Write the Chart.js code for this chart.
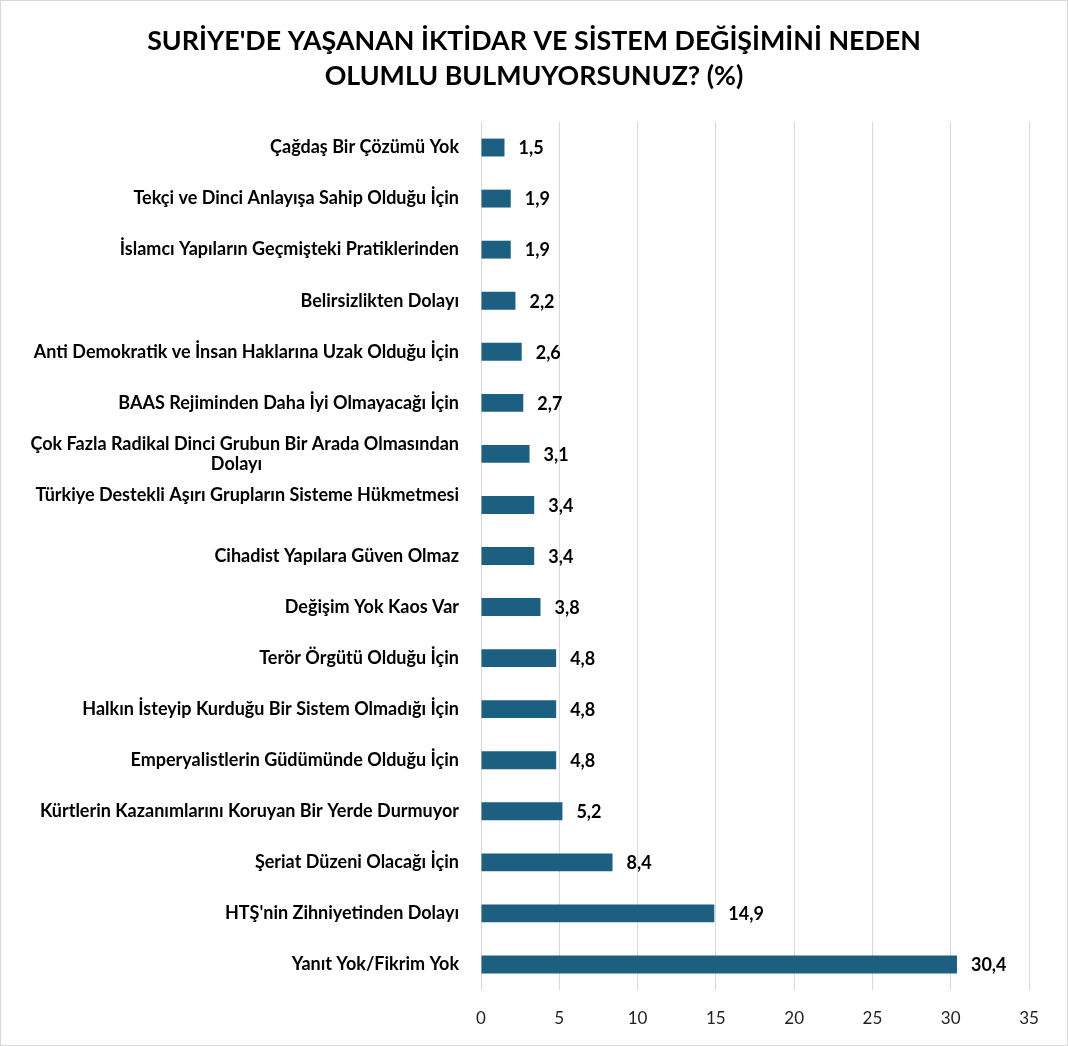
<!DOCTYPE html>
<html><head><meta charset="utf-8">
<script src="https://cdn.jsdelivr.net/npm/chart.js@4.4.1/dist/chart.umd.min.js"></script>
<style>
html,body{margin:0;padding:0;background:#fff;}
#wrap{width:1066px;height:1044px;border:1px solid #d9d9d9;position:relative;background:#fff;}
canvas{display:block;}
</style></head><body>
<div id="wrap"><canvas id="c" width="1066" height="1044"></canvas></div>
<script>
const titleLines = ["SURİYE'DE YAŞANAN İKTİDAR VE SİSTEM DEĞİŞİMİNİ NEDEN", "OLUMLU BULMUYORSUNUZ? (%)"];
const categories = [
  "Çağdaş Bir Çözümü Yok",
  "Tekçi ve Dinci Anlayışa Sahip Olduğu İçin",
  "İslamcı Yapıların Geçmişteki Pratiklerinden",
  "Belirsizlikten Dolayı",
  "Anti Demokratik ve İnsan Haklarına Uzak Olduğu İçin",
  "BAAS Rejiminden Daha İyi Olmayacağı İçin",
  ["Çok Fazla Radikal Dinci Grubun Bir Arada Olmasından", "Dolayı"],
  ["Türkiye Destekli Aşırı Grupların Sisteme Hükmetmesi", ""],
  "Cihadist Yapılara Güven Olmaz",
  "Değişim Yok Kaos Var",
  "Terör Örgütü Olduğu İçin",
  "Halkın İsteyip Kurduğu Bir Sistem Olmadığı İçin",
  "Emperyalistlerin Güdümünde Olduğu İçin",
  "Kürtlerin Kazanımlarını Koruyan Bir Yerde Durmuyor",
  "Şeriat Düzeni Olacağı İçin",
  "HTŞ'nin Zihniyetinden Dolayı",
  "Yanıt Yok/Fikrim Yok"
];
const values = [1.5, 1.9, 1.9, 2.2, 2.6, 2.7, 3.1, 3.4, 3.4, 3.8, 4.8, 4.8, 4.8, 5.2, 8.4, 14.9, 30.4];
const xMin = 0, xMax = 35, xStep = 5;

const FONT = "Lato, 'Open Sans', sans-serif";
const labelFont = {family: FONT, size: 18, weight: 'bold', lineHeight: '20px'};

// center continuation lines of multi-line labels under the first line (padding with spaces)
const mctx = document.createElement('canvas').getContext('2d');
function centerLines(lbl) {
  if (!Array.isArray(lbl)) return lbl;
  const w0 = mctx.measureText(lbl[0]).width;
  const sp = mctx.measureText(' ').width;
  return lbl.map((l, i) => {
    if (i === 0 || l === '') return l;
    const w = mctx.measureText(l).width;
    const n = Math.max(0, Math.round(((w0 - w) / 2) / sp) + 2);
    return l + ' '.repeat(n);
  });
}

const valueLabels = {
  id: 'valueLabels',
  afterDatasetsDraw(chart) {
    const ctx = chart.ctx;
    const meta = chart.getDatasetMeta(0);
    ctx.save();
    ctx.font = `bold 18px ${FONT}`;
    ctx.fillStyle = '#000';
    ctx.textAlign = 'left';
    ctx.textBaseline = 'middle';
    meta.data.forEach((bar, i) => {
      ctx.fillText(values[i].toFixed(1).replace('.', ','), bar.x + 14, bar.y + 1);
    });
    ctx.restore();
  }
};

function build() {
  mctx.font = `bold ${labelFont.size}px ${FONT}`;
  const displayLabels = categories.map(centerLines);
  new Chart(document.getElementById('c'), {
    type: 'bar',
    data: {
      labels: displayLabels,
      datasets: [{
        data: values,
        backgroundColor: '#1C5F80',
        borderWidth: 0,
        categoryPercentage: 1,
        barPercentage: 0.35
      }]
    },
    options: {
      indexAxis: 'y',
      responsive: false,
      devicePixelRatio: 1,
      animation: false,
      layout: {padding: 0},
      plugins: {
        legend: {display: false},
        tooltip: {enabled: false},
        title: {
          display: true,
          text: titleLines,
          color: '#000',
          font: {family: FONT, size: 26.8, weight: 'bold', lineHeight: '35px'},
          padding: {top: 23, bottom: 28}
        }
      },
      scales: {
        x: {
          min: xMin, max: xMax,
          ticks: {stepSize: xStep, color: '#222', font: {family: FONT, size: 17}, padding: 18},
          grid: {color: '#d9d9d9', drawTicks: false, lineWidth: 1},
          border: {display: false},
          afterFit(scale) { scale.height = 55; }
        },
        y: {
          ticks: {color: '#000', font: labelFont, padding: 22, autoSkip: false},
          grid: {display: false, drawTicks: false},
          border: {display: false},
          afterFit(scale) { scale.width = 480; }
        },
        yRight: {
          type: 'category',
          position: 'right',
          ticks: {display: false},
          grid: {display: false, drawTicks: false},
          border: {display: false},
          afterFit(scale) { scale.width = 38; }
        }
      }
    },
    plugins: [valueLabels]
  });
}
if (document.fonts && document.fonts.load) {
  Promise.all([document.fonts.load(`bold 18px Lato`), document.fonts.load(`18px Lato`)]).then(build, build);
} else { build(); }
</script>
</body></html>
